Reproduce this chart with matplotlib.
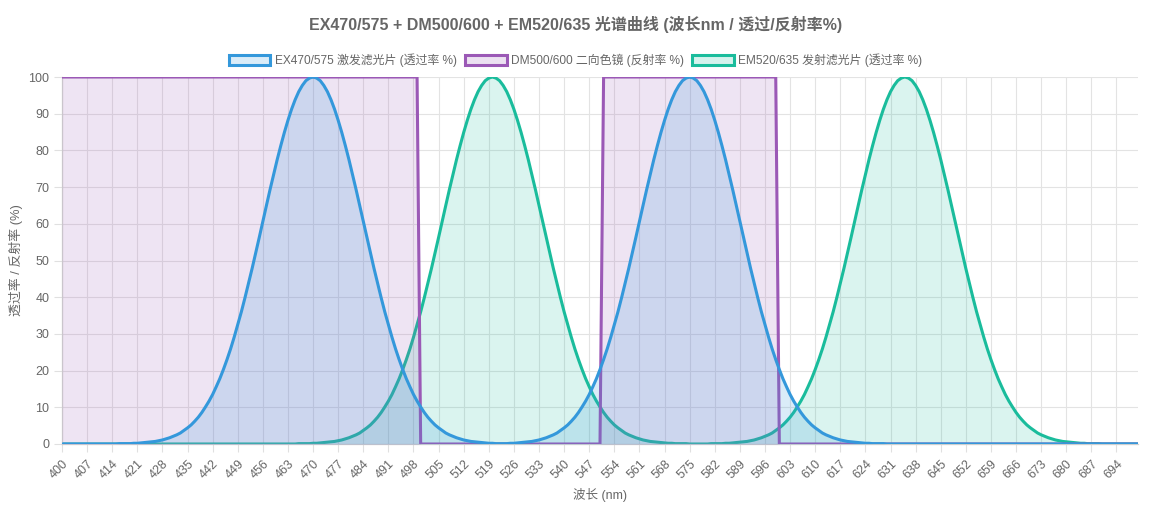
import matplotlib
matplotlib.use("Agg")
import matplotlib.pyplot as plt
from matplotlib.patches import Patch
from matplotlib.colors import to_rgba

plt.rcParams['font.family'] = ['Liberation Sans', 'Noto Sans CJK SC', 'DejaVu Sans']

# ---------------- data ----------------
wavelengths = list(range(400, 701))  # category labels, 1 nm step

ex_values = [
    0, 0, 0, 0, 0, 0, 0, 0, 0, 0,                              # 400
    0, 0, 0, 0, 0, 0, 0.1, 0.1, 0.1, 0.1,                      # 410
    0.2, 0.2, 0.3, 0.4, 0.5, 0.6, 0.7, 0.9, 1.1, 1.4,          # 420
    1.7, 2.1, 2.5, 3.0, 3.7, 4.4, 5.2, 6.2, 7.3, 8.6,          # 430
    10.1, 11.7, 13.5, 15.6, 17.8, 20.3, 23.0, 25.9, 29.1, 32.5,  # 440
    36.0, 39.8, 43.8, 47.8, 52.0, 56.3, 60.7, 65.0, 69.3, 73.4,  # 450
    77.5, 81.3, 84.9, 88.2, 91.2, 93.8, 96.0, 97.7, 99.0, 99.7,  # 460
    100, 99.7, 99.0, 97.7, 96.0, 93.8, 91.2, 88.2, 84.9, 81.3,   # 470
    77.5, 73.4, 69.3, 65.0, 60.7, 56.3, 52.0, 47.8, 43.8, 39.8,  # 480
    36.0, 32.5, 29.1, 25.9, 23.0, 20.3, 17.8, 15.6, 13.5, 11.7,  # 490
    10.1, 8.6, 7.3, 6.2, 5.2, 4.4, 3.7, 3.0, 2.5, 2.1,           # 500
    1.7, 1.4, 1.1, 0.9, 0.7, 0.6, 0.5, 0.4, 0.3, 0.2,            # 510
    0.2, 0.1, 0.1, 0.1, 0.1, 0.2, 0.2, 0.3, 0.4, 0.5,            # 520
    0.6, 0.7, 0.9, 1.1, 1.4, 1.7, 2.1, 2.5, 3.0, 3.7,            # 530
    4.4, 5.2, 6.2, 7.3, 8.6, 10.1, 11.7, 13.5, 15.6, 17.8,       # 540
    20.3, 23.0, 25.9, 29.1, 32.5, 36.0, 39.8, 43.8, 47.8, 52.0,  # 550
    56.3, 60.7, 65.0, 69.3, 73.4, 77.5, 81.3, 84.9, 88.2, 91.2,  # 560
    93.8, 96.0, 97.7, 99.0, 99.7, 100, 99.7, 99.0, 97.7, 96.0,   # 570
    93.8, 91.2, 88.2, 84.9, 81.3, 77.5, 73.4, 69.3, 65.0, 60.7,  # 580
    56.3, 52.0, 47.8, 43.8, 39.8, 36.0, 32.5, 29.1, 25.9, 23.0,  # 590
    20.3, 17.8, 15.6, 13.5, 11.7, 10.1, 8.6, 7.3, 6.2, 5.2,      # 600
    4.4, 3.7, 3.0, 2.5, 2.1, 1.7, 1.4, 1.1, 0.9, 0.7,            # 610
    0.6, 0.5, 0.4, 0.3, 0.2, 0.2, 0.1, 0.1, 0.1, 0.1,            # 620
    0, 0, 0, 0, 0, 0, 0, 0, 0, 0,                                # 630
    0, 0, 0, 0, 0, 0, 0, 0, 0, 0,                                # 640
    0, 0, 0, 0, 0, 0, 0, 0, 0, 0,                                # 650
    0, 0, 0, 0, 0, 0, 0, 0, 0, 0,                                # 660
    0, 0, 0, 0, 0, 0, 0, 0, 0, 0,                                # 670
    0, 0, 0, 0, 0, 0, 0, 0, 0, 0,                                # 680
    0, 0, 0, 0, 0, 0, 0, 0, 0, 0,                                # 690
    0,                                                           # 700
]

dm_values = (
    [100] * 100 +   # 400-499 reflect
    [0] * 51 +      # 500-550 transmit
    [100] * 49 +    # 551-599 reflect
    [0] * 101       # 600-700 transmit
)

em_values = [
    0, 0, 0, 0, 0, 0, 0, 0, 0, 0,                                # 400
    0, 0, 0, 0, 0, 0, 0, 0, 0, 0,                                # 410
    0, 0, 0, 0, 0, 0, 0, 0, 0, 0,                                # 420
    0, 0, 0, 0, 0, 0, 0, 0, 0, 0,                                # 430
    0, 0, 0, 0, 0, 0, 0, 0, 0, 0,                                # 440
    0, 0, 0, 0, 0, 0, 0, 0, 0, 0,                                # 450
    0, 0, 0, 0, 0, 0, 0.1, 0.1, 0.1, 0.1,                        # 460
    0.2, 0.2, 0.3, 0.4, 0.5, 0.6, 0.7, 0.9, 1.1, 1.4,            # 470
    1.7, 2.1, 2.5, 3.0, 3.7, 4.4, 5.2, 6.2, 7.3, 8.6,            # 480
    10.1, 11.7, 13.5, 15.6, 17.8, 20.3, 23.0, 25.9, 29.1, 32.5,  # 490
    36.0, 39.8, 43.8, 47.8, 52.0, 56.3, 60.7, 65.0, 69.3, 73.4,  # 500
    77.5, 81.3, 84.9, 88.2, 91.2, 93.8, 96.0, 97.7, 99.0, 99.7,  # 510
    100, 99.7, 99.0, 97.7, 96.0, 93.8, 91.2, 88.2, 84.9, 81.3,   # 520
    77.5, 73.4, 69.3, 65.0, 60.7, 56.3, 52.0, 47.8, 43.8, 39.8,  # 530
    36.0, 32.5, 29.1, 25.9, 23.0, 20.3, 17.8, 15.6, 13.5, 11.7,  # 540
    10.1, 8.6, 7.3, 6.2, 5.2, 4.4, 3.7, 3.0, 2.5, 2.1,           # 550
    1.7, 1.4, 1.1, 0.9, 0.7, 0.6, 0.5, 0.4, 0.3, 0.2,            # 560
    0.2, 0.1, 0.1, 0.1, 0.1, 0.0, 0, 0, 0, 0,                    # 570
    0.0, 0.1, 0.1, 0.1, 0.1, 0.2, 0.2, 0.3, 0.4, 0.5,            # 580
    0.6, 0.7, 0.9, 1.1, 1.4, 1.7, 2.1, 2.5, 3.0, 3.7,            # 590
    4.4, 5.2, 6.2, 7.3, 8.6, 10.1, 11.7, 13.5, 15.6, 17.8,       # 600
    20.3, 23.0, 25.9, 29.1, 32.5, 36.0, 39.8, 43.8, 47.8, 52.0,  # 610
    56.3, 60.7, 65.0, 69.3, 73.4, 77.5, 81.3, 84.9, 88.2, 91.2,  # 620
    93.8, 96.0, 97.7, 99.0, 99.7, 100, 99.7, 99.0, 97.7, 96.0,   # 630
    93.8, 91.2, 88.2, 84.9, 81.3, 77.5, 73.4, 69.3, 65.0, 60.7,  # 640
    56.3, 52.0, 47.8, 43.8, 39.8, 36.0, 32.5, 29.1, 25.9, 23.0,  # 650
    20.3, 17.8, 15.6, 13.5, 11.7, 10.1, 8.6, 7.3, 6.2, 5.2,      # 660
    4.4, 3.7, 3.0, 2.5, 2.1, 1.7, 1.4, 1.1, 0.9, 0.7,            # 670
    0.6, 0.5, 0.4, 0.3, 0.2, 0.2, 0.1, 0.1, 0.1, 0.1,            # 680
    0, 0, 0, 0, 0, 0, 0, 0, 0, 0,                                # 690
    0,                                                           # 700
]

series_labels = [
    "EX470/575 激发滤光片 (透过率 %)",
    "DM500/600 二向色镜 (反射率 %)",
    "EM520/635 发射滤光片 (透过率 %)",
]
series_colors = ["#3498db", "#9b59b6", "#1abc9c"]
title_text = "EX470/575 + DM500/600 + EM520/635 光谱曲线 (波长nm / 透过/反射率%)"
x_label = "波长 (nm)"
y_label = "透过率 / 反射率 (%)"
tick_step = 7

# ---------------- figure ----------------
W, H = 1151, 508
fig = plt.figure(figsize=(W / 100, H / 100), dpi=100)
fig.patch.set_facecolor("white")
L, R, T, B = 62, 1138, 77, 444
ax = fig.add_axes([L / W, 1 - B / H, (R - L) / W, (B - T) / H])

all_values = [ex_values, dm_values, em_values]
zorders = [6, 4, 2]
fill_alpha = [0.18, 0.16, 0.16]
for vals, col, z, fa in zip(all_values, series_colors, zorders, fill_alpha):
    ax.fill_between(wavelengths, vals, 0, color=col, alpha=fa, linewidth=0, zorder=z)
    ax.plot(wavelengths, vals, color=col, linewidth=2.2, zorder=z + 0.5,
            solid_joinstyle="round", solid_capstyle="butt")

ax.set_xlim(wavelengths[0], wavelengths[-1])
ax.set_ylim(0, 100)

tick_vals = wavelengths[::tick_step]
tick_vals = [v for v in tick_vals if v < wavelengths[-1]]
ax.set_xticks(tick_vals)
ax.set_xticklabels([str(v) for v in tick_vals], rotation=45, ha="right",
                   rotation_mode="anchor", fontsize=9, color="#666666")
ax.set_yticks(range(0, 101, 10))
ax.set_yticklabels([str(v) for v in range(0, 101, 10)], fontsize=9, color="#666666")

ax.tick_params(axis="both", length=6, width=0.8, color="#e0e0e0")
ax.tick_params(axis="x", pad=4)
ax.tick_params(axis="y", pad=3)

ax.grid(True, color="#e3e3e3", linewidth=0.8, zorder=0)
ax.set_axisbelow(True)
for s in ["top", "right"]:
    ax.spines[s].set_visible(False)
for s in ["left", "bottom"]:
    ax.spines[s].set_color("#cfcfcf")
    ax.spines[s].set_linewidth(0.9)

ax.set_xlabel(x_label, fontsize=9, color="#666666", labelpad=5)
ax.set_ylabel(y_label, fontsize=9.3, color="#666666", labelpad=4)

fig.text(0.5, 1 - 24 / H, title_text, ha="center", va="center",
         fontsize=11.5, fontweight="bold", color="#666666")

handles = [Patch(facecolor=to_rgba(c, 0.18), edgecolor=c, linewidth=2.2)
           for c in series_colors]
leg = fig.legend(handles, series_labels, loc="center", ncol=3,
                 bbox_to_anchor=(0.5, 1 - 60 / H), frameon=False,
                 fontsize=8.6, handlelength=3.5, handleheight=0.9,
                 columnspacing=0.7, handletextpad=0.35)
for t in leg.get_texts():
    t.set_color("#666666")

fig.savefig("out.png", dpi=100)
